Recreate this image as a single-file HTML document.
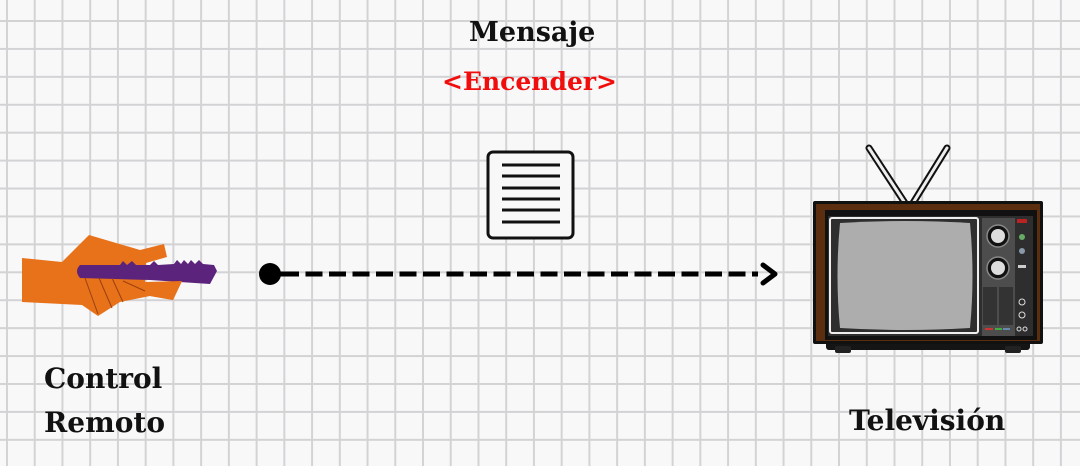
<!DOCTYPE html>
<html><head><meta charset="utf-8"><style>
html,body{margin:0;padding:0}
body{width:1080px;height:466px;overflow:hidden;position:relative;background:#f8f8f9;
background-image:linear-gradient(to right,#d3d3d5 2px,transparent 2px),linear-gradient(to bottom,#d3d3d5 2px,transparent 2px);
background-size:27.74px 100%,100% 27.93px;background-position:6px 0,0 20px;}
.t{position:absolute;font-family:"DejaVu Serif","Liberation Serif",serif;font-weight:bold;white-space:nowrap;color:#111;}
</style></head><body>
<div class="t" style="left:469px;top:17px;font-size:27px;">Mensaje</div>
<div class="t" style="left:442px;top:67px;font-size:25px;color:#f20d0d;">&lt;Encender&gt;</div>
<div class="t" style="left:44px;top:362px;font-size:28px;">Control</div>
<div class="t" style="left:44px;top:406px;font-size:28px;">Remoto</div>
<div class="t" style="left:849px;top:404px;font-size:28px;">Televisión</div>
<svg width="1080" height="466" style="position:absolute;left:0;top:0">
<rect x="488" y="152" width="85" height="86" rx="5" fill="#f8f8f9" stroke="#111" stroke-width="3"/>
<g stroke="#111" stroke-width="3">
<line x1="502" y1="165" x2="560" y2="165"/><line x1="502" y1="176" x2="560" y2="176"/>
<line x1="502" y1="188" x2="560" y2="188"/><line x1="502" y1="199" x2="560" y2="199"/>
<line x1="502" y1="210" x2="560" y2="210"/><line x1="502" y1="222" x2="560" y2="222"/>
</g>
<circle cx="270" cy="274" r="11" fill="#000"/>
<line x1="270" y1="274" x2="282" y2="274" stroke="#000" stroke-width="5"/>
<line x1="282" y1="274" x2="758" y2="274" stroke="#000" stroke-width="5" stroke-dasharray="17 6.5"/>
<polyline points="763,265 775,274 763,283" fill="none" stroke="#000" stroke-width="5" stroke-linecap="round" stroke-linejoin="round"/>
<polygon points="22,258 62,262 89,235 140,250 164,244 167,257 146,263 145,284 182,281 173,300 150,296 120,302 98,316 82,305 22,302" fill="#e8721a"/>
<path d="M80,265 L120,265 L123,261 L127,265 L132,261 L136,265 L150,265 L154,261 L158,265 L174,264 L177,260 L181,264 L184,260 L188,264 L191,260 L195,264 L199,260 L203,264 L214,265 L217,271 L210,284 L180,282 L150,280 L80,278 Q74,271 80,265 Z" fill="#5b237c"/>
<polygon points="123,281 146,282 182,281 173,300 150,296" fill="#e8721a"/>
<g stroke="#9a3f10" stroke-width="1"><line x1="85" y1="278" x2="98" y2="314"/><line x1="99" y1="278" x2="112" y2="308"/><line x1="112" y1="278" x2="123" y2="302"/><line x1="123" y1="281" x2="145" y2="291"/></g>
<g stroke-linecap="round"><line x1="869" y1="148" x2="905" y2="203" stroke="#111" stroke-width="7"/><line x1="869" y1="148" x2="905" y2="203" stroke="#eee" stroke-width="3"/>
<line x1="947" y1="148" x2="913" y2="203" stroke="#111" stroke-width="7"/><line x1="947" y1="148" x2="913" y2="203" stroke="#eee" stroke-width="3"/></g>
<rect x="826" y="338" width="204" height="12" rx="3" fill="#151515"/>
<rect x="835" y="346" width="16" height="7" rx="2" fill="#222"/><rect x="1005" y="346" width="16" height="7" rx="2" fill="#222"/>
<rect x="813" y="201" width="230" height="143" rx="2" fill="#111"/>
<rect x="816" y="204" width="224" height="137" fill="#5a2e0e"/>
<rect x="825" y="210" width="212" height="130" fill="#111"/>
<rect x="828" y="216" width="205" height="120" fill="#2e2e2e"/>
<rect x="830" y="218" width="148" height="115" rx="2" fill="none" stroke="#eee" stroke-width="2"/>
<path d="M840,223 Q905,219 970,223 Q975,276 970,328 Q905,332 840,328 Q835,276 840,223 Z" fill="#adadad"/>
<rect x="982" y="218" width="33" height="118" fill="#4d4d4d"/>
<circle cx="998" cy="236" r="11" fill="#111" stroke="#888" stroke-width="1.5"/><circle cx="998" cy="236" r="7" fill="#ddd"/>
<circle cx="998" cy="268" r="11" fill="#111" stroke="#888" stroke-width="1.5"/><circle cx="998" cy="268" r="7" fill="#ddd"/>
<rect x="983" y="287" width="14" height="38" fill="#333"/><rect x="999" y="287" width="14" height="38" fill="#333"/>
<rect x="985" y="328" width="8" height="2" fill="#c33"/><rect x="995" y="328" width="7" height="2" fill="#4a4"/><rect x="1003" y="328" width="7" height="2" fill="#68a"/>
<rect x="1017" y="219" width="10" height="4" fill="#b22"/>
<circle cx="1022" cy="237" r="3" fill="#6a6"/><circle cx="1022" cy="251" r="3" fill="#89a"/>
<rect x="1018" y="265" width="8" height="3" fill="#ccc"/>
<circle cx="1022" cy="302" r="3" fill="none" stroke="#ddd"/><circle cx="1022" cy="315" r="3" fill="none" stroke="#ddd"/>
<circle cx="1019" cy="329" r="2" fill="none" stroke="#ddd"/><circle cx="1025" cy="329" r="2" fill="none" stroke="#ddd"/>
</svg>
</body></html>
